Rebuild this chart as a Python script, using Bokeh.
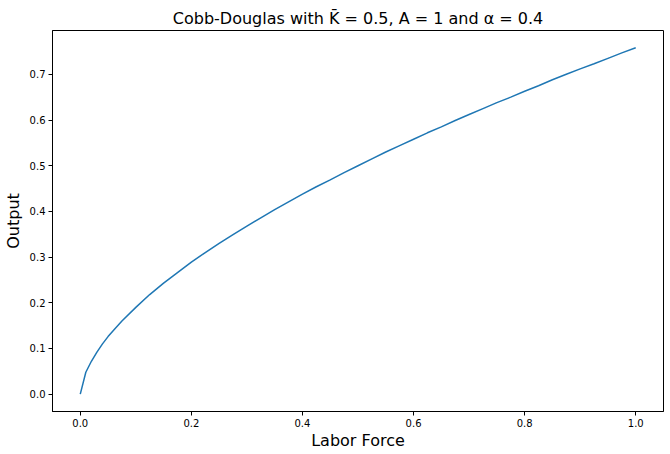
from bokeh.plotting import figure
from bokeh.models import FixedTicker, NumeralTickFormatter, Range1d
from bokeh.embed import file_html
from bokeh.resources import INLINE

# labor force (x) and output (y)
labor = [0.0, 0.01, 0.02, 0.03, 0.04, 0.05, 0.06, 0.075, 0.1, 0.125, 0.15, 0.175,
         0.2, 0.225, 0.25, 0.275, 0.3, 0.325, 0.35, 0.375, 0.4, 0.425, 0.45, 0.475,
         0.5, 0.525, 0.55, 0.575, 0.6, 0.625, 0.65, 0.675, 0.7, 0.725, 0.75, 0.775,
         0.8, 0.825, 0.85, 0.875, 0.9, 0.925, 0.95, 0.975, 1.0]
output = [0.0, 0.048, 0.072, 0.092, 0.110, 0.126, 0.140, 0.160, 0.190, 0.218, 0.243, 0.266,
          0.289, 0.310, 0.330, 0.349, 0.368, 0.386, 0.404, 0.421, 0.438, 0.454, 0.469, 0.485,
          0.500, 0.515, 0.530, 0.544, 0.558, 0.572, 0.585, 0.599, 0.612, 0.625, 0.638, 0.650,
          0.663, 0.675, 0.688, 0.700, 0.712, 0.723, 0.735, 0.747, 0.758]

x_ticks = [0.0, 0.2, 0.4, 0.6, 0.8, 1.0]
y_ticks = [0.0, 0.1, 0.2, 0.3, 0.4, 0.5, 0.6, 0.7]

p = figure(width=670, height=454, output_backend="svg", toolbar_location=None,
           x_range=Range1d(-0.05, 1.05), y_range=Range1d(-0.0379, 0.7959),
           min_border_left=49, min_border_right=7, min_border_top=30, min_border_bottom=43,
           title="Cobb-Douglas with K\u0304 = 0.5, A = 1 and \u03b1 = 0.4")

p.line(labor, output, line_color="#1f77b4", line_width=1.5)

p.title.align = "center"
p.title.text_font = "DejaVu Sans"
p.title.text_font_size = "16px"
p.title.text_font_style = "normal"
p.title.text_color = "black"
p.title.standoff = 6

p.grid.visible = False
p.outline_line_color = "black"
p.outline_line_alpha = 1
p.outline_line_width = 1

p.xaxis.ticker = FixedTicker(ticks=x_ticks)
p.yaxis.ticker = FixedTicker(ticks=y_ticks)
p.axis.formatter = NumeralTickFormatter(format="0.0")
p.xaxis.axis_label = "Labor Force"
p.yaxis.axis_label = "Output"

for ax in p.axis:
    ax.axis_line_color = "black"
    ax.major_tick_line_color = "black"
    ax.major_tick_out = 4
    ax.major_tick_in = 0
    ax.minor_tick_line_color = None
    ax.major_label_text_font = "DejaVu Sans"
    ax.major_label_text_font_size = "10px"
    ax.major_label_text_color = "black"
    ax.major_label_standoff = 3
    ax.axis_label_text_font = "DejaVu Sans"
    ax.axis_label_text_font_size = "16px"
    ax.axis_label_text_font_style = "normal"
    ax.axis_label_text_color = "black"
    ax.axis_label_standoff = 4
p.xaxis.axis_label_standoff = 1

open("out.html", "w").write(file_html(p, INLINE))
